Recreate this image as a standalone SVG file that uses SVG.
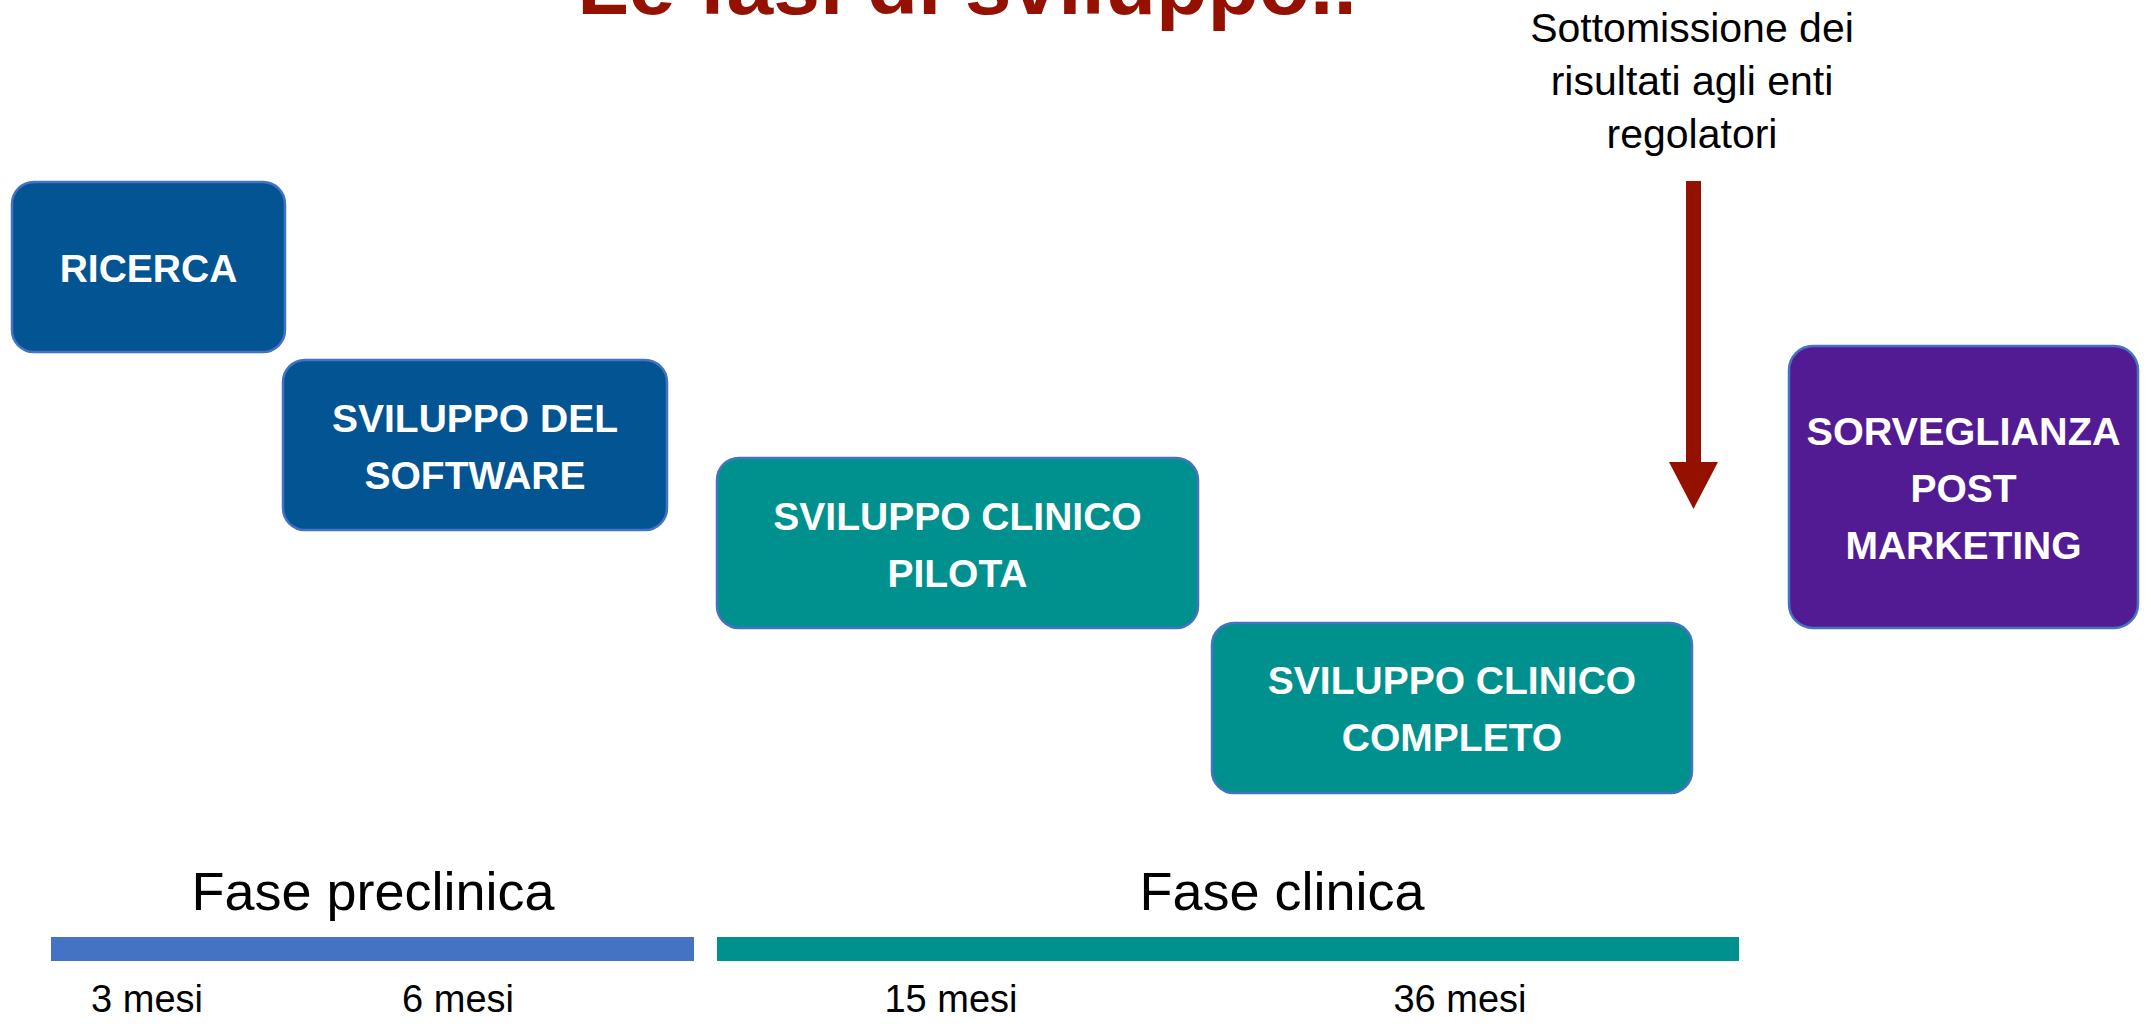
<svg xmlns="http://www.w3.org/2000/svg" width="2151" height="1024" viewBox="0 0 2151 1024">
  <style>
    .box { stroke: #4472C4; stroke-width: 2.5; }
    .blue { fill: #025493; }
    .teal { fill: #00918F; }
    .purple { fill: #531B93; }
    .lbl { font-family: "Liberation Sans", Arial, sans-serif; font-weight: bold; font-size: 39px; fill: #FFFFFF; text-anchor: middle; }
    .note { font-family: "Liberation Sans", Arial, sans-serif; font-size: 41px; fill: #000000; text-anchor: middle; }
    .phase { font-family: "Liberation Sans", Arial, sans-serif; font-size: 54px; fill: #000000; text-anchor: middle; }
    .mesi { font-family: "Liberation Sans", Arial, sans-serif; font-size: 38px; fill: #000000; text-anchor: middle; }
    .title { font-family: "Liberation Sans", Arial, sans-serif; font-weight: bold; font-size: 84px; fill: #941100; text-anchor: middle; }
  </style>

  <text class="title" x="967" y="14">Le fasi di sviluppo..</text>

  <g id="note-sottomissione">
    <text class="note" x="1692" y="42">Sottomissione dei</text>
    <text class="note" x="1692" y="95">risultati agli enti</text>
    <text class="note" x="1692" y="148">regolatori</text>
  </g>

  <g id="connectors">
    <rect x="1686" y="181" width="15" height="282" fill="#941100"/>
    <polygon points="1669,462 1718,462 1693.5,509" fill="#941100"/>
  </g>

  <g id="node-ricerca">
    <rect class="box blue" x="12" y="182" width="273" height="170" rx="22" ry="22"/>
    <text class="lbl" x="148.5" y="282">RICERCA</text>
  </g>

  <g id="node-sviluppo-software">
    <rect class="box blue" x="283" y="360" width="384" height="170" rx="22" ry="22"/>
    <text class="lbl" x="475" y="432">SVILUPPO DEL</text>
    <text class="lbl" x="475" y="489">SOFTWARE</text>
  </g>

  <g id="node-clinico-pilota">
    <rect class="box teal" x="717" y="458" width="481" height="170" rx="22" ry="22"/>
    <text class="lbl" x="957.5" y="530">SVILUPPO CLINICO</text>
    <text class="lbl" x="957.5" y="587">PILOTA</text>
  </g>

  <g id="node-clinico-completo">
    <rect class="box teal" x="1212" y="623" width="480" height="170" rx="22" ry="22"/>
    <text class="lbl" x="1452" y="694">SVILUPPO CLINICO</text>
    <text class="lbl" x="1452" y="751">COMPLETO</text>
  </g>

  <g id="node-sorveglianza">
    <rect class="box purple" x="1789" y="346" width="349" height="282" rx="24" ry="24"/>
    <text class="lbl" x="1963.5" y="445" textLength="314" lengthAdjust="spacingAndGlyphs">SORVEGLIANZA</text>
    <text class="lbl" x="1963.5" y="502">POST</text>
    <text class="lbl" x="1963.5" y="559">MARKETING</text>
  </g>

  <g id="timeline-preclinica">
    <text class="phase" x="373" y="910">Fase preclinica</text>
    <rect x="51" y="937" width="643" height="24" fill="#4472C4"/>
    <text class="mesi" x="147" y="1012">3 mesi</text>
    <text class="mesi" x="458" y="1012">6 mesi</text>
  </g>

  <g id="timeline-clinica">
    <text class="phase" x="1282" y="910">Fase clinica</text>
    <rect x="717" y="937" width="1022" height="24" fill="#00918F"/>
    <text class="mesi" x="951" y="1012">15 mesi</text>
    <text class="mesi" x="1460" y="1012">36 mesi</text>
  </g>
</svg>
